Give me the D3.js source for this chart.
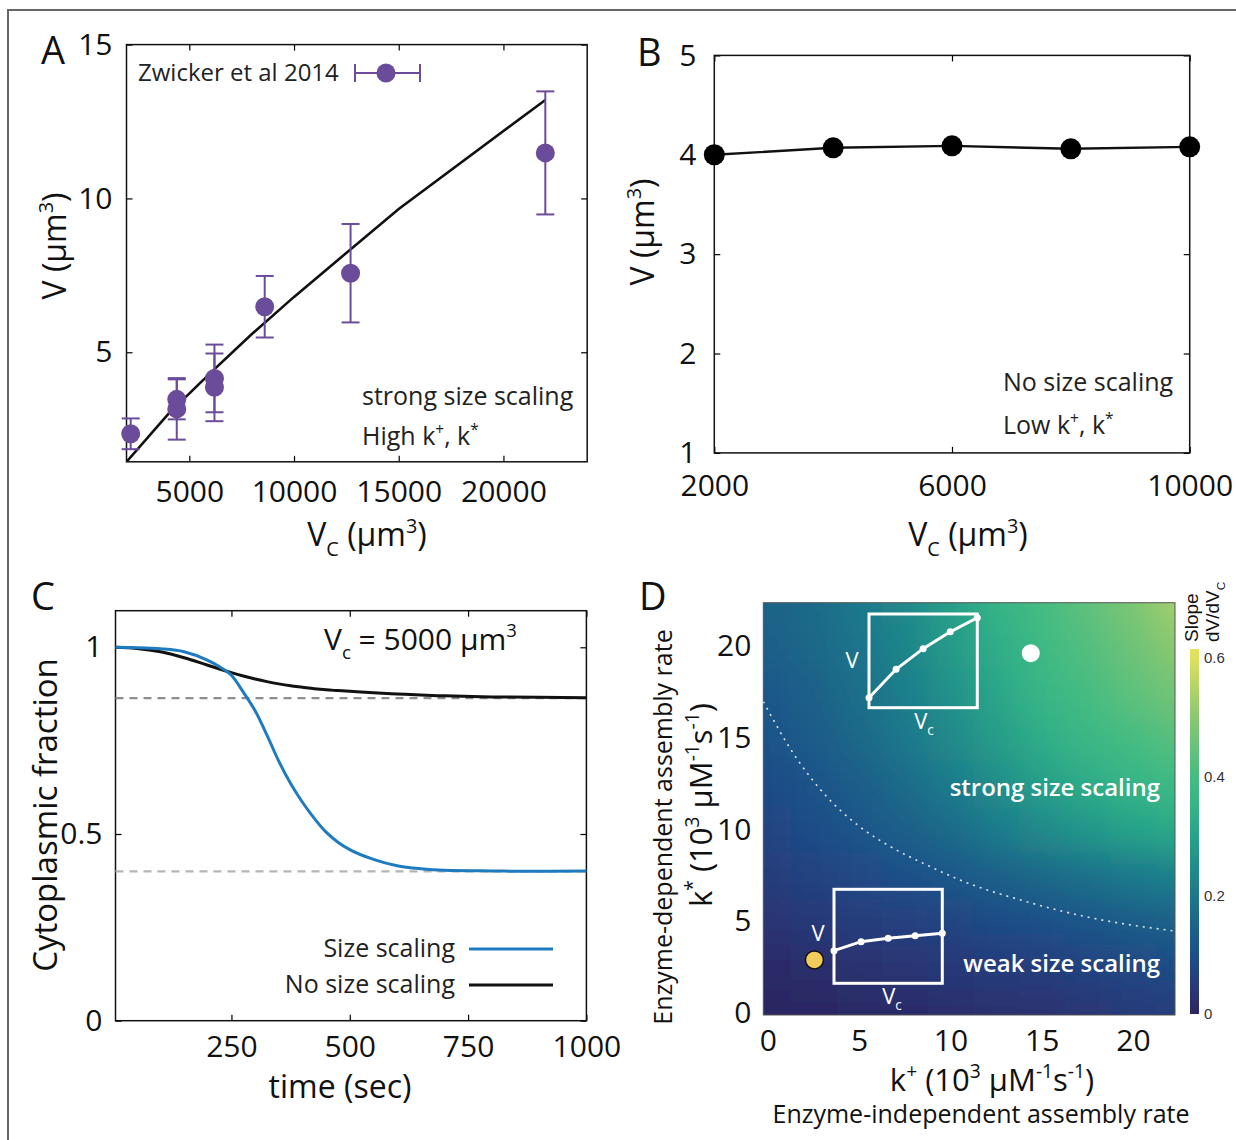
<!DOCTYPE html>
<html>
<head>
<meta charset="utf-8">
<script src="https://cdn.jsdelivr.net/npm/d3@7"></script>
<style>
  body { margin: 0; background: #fff; }
  svg text { font-family: "Open Sans", sans-serif; }
</style>
</head>
<body>
<div id="fig"></div>
<script>
// ---- A: Zwicker et al 2014 data + model curve ----
const zwVc  = [2200, 4400, 4400, 6200, 6200, 8600, 12700, 22000];
const zwV   = [2.35, 3.47, 3.16, 4.15, 3.86, 6.48, 7.57, 11.48];
const zwErr = [0.5, 0.65, 1.0, 1.1, 1.1, 1.0, 1.6, 2.0];
const modelVc = [2000, 4000, 6000, 8000, 10000, 15000, 22000];
const modelV  = [1.44, 3.0, 4.32, 5.6, 6.8, 9.66, 13.2];

// ---- B: no size scaling ----
const bVc = [2000, 4000, 6000, 8000, 10000];
const bV  = [4.0, 4.07, 4.09, 4.06, 4.08];

// ---- C: cytoplasmic fraction vs time ----
const timeSec = [5, 50, 100, 150, 200, 225, 250, 275, 300, 325, 350, 375, 400, 425, 450, 475, 500, 550, 600, 650, 700, 800, 900, 1000];
const fracScaling   = [1.0, 0.999, 0.996, 0.988, 0.965, 0.948, 0.925, 0.88, 0.83, 0.765, 0.695, 0.635, 0.585, 0.542, 0.505, 0.478, 0.458, 0.432, 0.415, 0.407, 0.403, 0.401, 0.400, 0.401];
const fracNoScaling = [1.0, 0.997, 0.988, 0.972, 0.952, 0.942, 0.932, 0.923, 0.915, 0.908, 0.902, 0.897, 0.893, 0.889, 0.886, 0.884, 0.882, 0.878, 0.875, 0.872, 0.870, 0.867, 0.866, 0.865];
const steadyLevels = [0.864, 0.40];

// ---- D: slope map over (k+, k*) ----
const kGrid = [0, 2.5, 5, 7.5, 10, 12.5, 15, 17.5, 20, 22.5];
// rows: k* = 0 ... 22.5, columns: k+ = 0 ... 22.5
const slopeGrid = [
  [0.00, 0.005, 0.01, 0.015, 0.02, 0.025, 0.03, 0.04, 0.05, 0.06],
  [0.015, 0.02, 0.03, 0.035, 0.045, 0.05, 0.06, 0.07, 0.08, 0.09],
  [0.035, 0.045, 0.055, 0.065, 0.075, 0.09, 0.10, 0.115, 0.13, 0.145],
  [0.055, 0.07, 0.085, 0.10, 0.12, 0.14, 0.16, 0.18, 0.20, 0.22],
  [0.075, 0.095, 0.115, 0.14, 0.17, 0.205, 0.24, 0.27, 0.30, 0.32],
  [0.09, 0.11, 0.135, 0.17, 0.205, 0.25, 0.29, 0.325, 0.355, 0.38],
  [0.11, 0.13, 0.16, 0.20, 0.24, 0.285, 0.33, 0.37, 0.40, 0.43],
  [0.12, 0.145, 0.175, 0.215, 0.26, 0.31, 0.36, 0.40, 0.44, 0.47],
  [0.14, 0.16, 0.19, 0.23, 0.28, 0.33, 0.38, 0.42, 0.46, 0.50],
  [0.15, 0.17, 0.20, 0.24, 0.29, 0.35, 0.40, 0.44, 0.48, 0.53]
];
const boundaryKp = [-0.25, 1.39, 3.22, 5.04, 6.87, 8.70, 10.52, 14.17, 17.82, 22.3];
const boundaryKs = [16.96, 14.15, 11.79, 10.15, 8.98, 8.07, 7.25, 6.07, 5.17, 4.47];
const strongPoint = [14.4, 19.6];
const weakPoint = [2.55, 2.9];
const insetVc = [1, 2, 3, 4, 5];
const insetStrongV = [0.107, 0.41, 0.63, 0.81, 0.96];
const insetWeakV = [0.347, 0.443, 0.479, 0.506, 0.532];
const cmapVals   = [0, 0.05, 0.1, 0.15, 0.2, 0.25, 0.3, 0.35, 0.4, 0.45, 0.5, 0.55, 0.6, 0.615];
const cmapColors = ["#2c2661", "#283a7a", "#1d4f89", "#1a6389", "#1d788b", "#218d8a", "#27a389", "#34b487", "#45bc82", "#66c27a", "#8bc870", "#b4d466", "#dfe05d", "#e6e25c"];
const cbTicks = [0, 0.2, 0.4, 0.6];

const purple = "#6b4c9a", blue = "#1f7bbf";

const svg = d3.select("#fig").append("svg")
  .attr("width", 1236).attr("height", 1140);

// outer frame
svg.append("path").attr("d", "M8,1140V10H1236").attr("fill", "none")
  .attr("stroke", "#666").attr("stroke-width", 2);

// text with super/subscripts (dy only where the baseline moves)
function rich(sel, parts, fs) {
  let shift = 0;
  parts.forEach(p => {
    const target = p.sup ? -0.42 * fs : p.sub ? 0.3 * fs : 0;
    const ts = sel.append("tspan").attr("font-size", (p.sup || p.sub) ? fs * 0.62 : fs).text(p.t);
    if (target !== shift) ts.attr("dy", target - shift);
    shift = target;
  });
  return sel;
}
const um3 = [{t: " (µm"}, {t: "3", sup: true}, {t: ")"}];

function letter(x, y, t) {
  svg.append("text").attr("x", x).attr("y", y).attr("font-size", 38).attr("fill", "#111").text(t);
}

// box with inward ticks on all four sides
function boxAxes(x, y, box, o) {
  const g = svg.append("g");
  const fmt = o.fmt || (d => d);
  g.append("g").attr("transform", `translate(0,${box.b})`)
    .call(d3.axisBottom(x).tickValues(o.xt).tickSizeInner(-6).tickSizeOuter(0).tickPadding(o.xp).tickFormat(o.xfmt || fmt))
    .attr("font-size", 30);
  g.append("g").attr("transform", `translate(0,${box.t})`)
    .call(d3.axisTop(x).tickValues(o.xt).tickSizeInner(-6).tickSizeOuter(0).tickFormat(""));
  g.append("g").attr("transform", `translate(${box.l},0)`)
    .call(d3.axisLeft(y).tickValues(o.yt).tickSizeInner(-6).tickSizeOuter(0).tickPadding(o.yp).tickFormat(o.yfmt || fmt))
    .attr("font-size", 30);
  g.append("g").attr("transform", `translate(${box.r},0)`)
    .call(d3.axisRight(y).tickValues(o.yt).tickSizeInner(-6).tickSizeOuter(0).tickFormat(""));
  g.selectAll(".domain").remove();
  g.selectAll(".tick line").attr("stroke-width", 1.2);
  g.selectAll("text").attr("fill", "#111");
  svg.append("rect").attr("x", box.l).attr("y", box.t)
    .attr("width", box.r - box.l).attr("height", box.b - box.t)
    .attr("fill", "none").attr("stroke", "#111").attr("stroke-width", 1.5);
}

// ================= A =================
(function panelA() {
  const box = {l: 126.5, r: 587.2, t: 44.6, b: 461.8};
  const x = d3.scaleLinear().domain([2000, 24000]).range([box.l, box.r]);
  const y = d3.scaleLinear().domain([1.44, 15]).range([box.b, box.t]);
  boxAxes(x, y, box, {xt: [5000, 10000, 15000, 20000], yt: [5, 10, 15], xp: 19, yp: 14});

  svg.append("clipPath").attr("id", "clipA").append("rect")
    .attr("x", box.l).attr("y", box.t).attr("width", box.r - box.l).attr("height", box.b - box.t);
  svg.append("path").datum(modelVc.map((v, i) => [v, modelV[i]]))
    .attr("clip-path", "url(#clipA)")
    .attr("fill", "none").attr("stroke", "#111").attr("stroke-width", 2.6)
    .attr("d", d3.line().x(d => x(d[0])).y(d => y(d[1])));

  const pts = zwVc.map((v, i) => ({vc: v, v: zwV[i], e: zwErr[i]}));
  const eb = svg.append("g").attr("stroke", purple).attr("stroke-width", 2);
  pts.forEach(d => {
    eb.append("line").attr("x1", x(d.vc)).attr("x2", x(d.vc)).attr("y1", y(d.v - d.e)).attr("y2", y(d.v + d.e));
    [d.v - d.e, d.v + d.e].forEach(c => eb.append("line")
      .attr("x1", x(d.vc) - 9).attr("x2", x(d.vc) + 9).attr("y1", y(c)).attr("y2", y(c)));
  });
  svg.append("g").selectAll("circle").data(pts).join("circle")
    .attr("cx", d => x(d.vc)).attr("cy", d => y(d.v)).attr("r", 9.5).attr("fill", purple);

  // legend
  svg.append("text").attr("x", 138).attr("y", 73).attr("dy", "0.35em").attr("font-size", 24).attr("fill", "#222")
    .text("Zwicker et al 2014");
  const lg = svg.append("g").attr("stroke", purple).attr("stroke-width", 2);
  lg.append("line").attr("x1", 355).attr("x2", 420).attr("y1", 73).attr("y2", 73);
  lg.append("line").attr("x1", 355).attr("x2", 355).attr("y1", 64).attr("y2", 82);
  lg.append("line").attr("x1", 420).attr("x2", 420).attr("y1", 64).attr("y2", 82);
  svg.append("circle").attr("cx", 386).attr("cy", 73).attr("r", 9.5).attr("fill", purple);

  svg.append("text").attr("x", 362).attr("y", 396).attr("dy", "0.35em").attr("font-size", 25).attr("fill", "#222")
    .text("strong size scaling");
  rich(svg.append("text").attr("x", 362).attr("y", 445).attr("font-size", 25).attr("fill", "#222"),
    [{t: "High k"}, {t: "+", sup: true}, {t: ", k"}, {t: "*", sup: true}], 25);

  rich(svg.append("text").attr("transform", "translate(55,246) rotate(-90)").attr("text-anchor", "middle")
    .attr("dy", "0.35em").attr("font-size", 32).attr("fill", "#111"), [{t: "V"}].concat(um3), 32);
  rich(svg.append("text").attr("x", 367).attr("y", 546).attr("text-anchor", "middle").attr("font-size", 32).attr("fill", "#111"),
    [{t: "V"}, {t: "C", sub: true}].concat(um3), 32);
  letter(41, 64, "A");
})();

// ================= B =================
(function panelB() {
  const box = {l: 714.3, r: 1189.7, t: 55.4, b: 452.9};
  const x = d3.scaleLinear().domain([2000, 10000]).range([box.l, box.r]);
  const y = d3.scaleLinear().domain([1, 5]).range([box.b, box.t]);
  boxAxes(x, y, box, {xt: [2000, 6000, 10000], yt: [1, 2, 3, 4, 5], xp: 22, yp: 18});

  const pts = bVc.map((v, i) => [v, bV[i]]);
  svg.append("path").datum(pts).attr("fill", "none").attr("stroke", "#111").attr("stroke-width", 2.4)
    .attr("d", d3.line().x(d => x(d[0])).y(d => y(d[1])));
  svg.append("g").selectAll("circle").data(pts).join("circle")
    .attr("cx", d => x(d[0])).attr("cy", d => y(d[1])).attr("r", 10.5).attr("fill", "#000");

  svg.append("text").attr("x", 1003).attr("y", 382).attr("dy", "0.35em").attr("font-size", 25).attr("fill", "#222")
    .text("No size scaling");
  rich(svg.append("text").attr("x", 1003).attr("y", 434).attr("font-size", 25).attr("fill", "#222"),
    [{t: "Low k"}, {t: "+", sup: true}, {t: ", k"}, {t: "*", sup: true}], 25);

  rich(svg.append("text").attr("transform", "translate(643,232) rotate(-90)").attr("text-anchor", "middle")
    .attr("dy", "0.35em").attr("font-size", 32).attr("fill", "#111"), [{t: "V"}].concat(um3), 32);
  rich(svg.append("text").attr("x", 968).attr("y", 546).attr("text-anchor", "middle").attr("font-size", 32).attr("fill", "#111"),
    [{t: "V"}, {t: "C", sub: true}].concat(um3), 32);
  letter(637, 66, "B");
})();

// ================= C =================
(function panelC() {
  const box = {l: 115.5, r: 586.4, t: 610.7, b: 1020.7};
  const x = d3.scaleLinear().domain([5, 1000]).range([box.l, box.r]);
  const y = d3.scaleLinear().domain([0, 1.098]).range([box.b, box.t]);
  boxAxes(x, y, box, {xt: [250, 500, 750, 1000], yt: [0, 0.5, 1], xp: 15, yp: 13});

  svg.append("g").selectAll("line").data(steadyLevels).join("line")
    .attr("x1", box.l).attr("x2", box.r).attr("y1", d => y(d)).attr("y2", d => y(d))
    .attr("stroke", (d, i) => i === 0 ? "#8f8f8f" : "#b5b5b5").attr("stroke-width", 2.4)
    .attr("stroke-dasharray", "8,6");

  const line = d3.line().curve(d3.curveMonotoneX).x((d, i) => x(timeSec[i])).y(d => y(d));
  svg.append("path").datum(fracNoScaling).attr("fill", "none").attr("stroke", "#111").attr("stroke-width", 3).attr("d", line);
  svg.append("path").datum(fracScaling).attr("fill", "none").attr("stroke", blue).attr("stroke-width", 3).attr("d", line);

  rich(svg.append("text").attr("x", 324).attr("y", 650).attr("font-size", 30).attr("fill", "#111"),
    [{t: "V"}, {t: "c", sub: true}, {t: " = 5000 µm"}, {t: "3", sup: true}], 30);

  const leg = [["Size scaling", blue, 948], ["No size scaling", "#111", 984]];
  leg.forEach(([t, c, yy]) => {
    svg.append("text").attr("x", 455).attr("y", yy).attr("dy", "0.35em").attr("text-anchor", "end")
      .attr("font-size", 25).attr("fill", "#222").text(t);
    svg.append("line").attr("x1", 469).attr("x2", 553).attr("y1", yy + 1).attr("y2", yy + 1)
      .attr("stroke", c).attr("stroke-width", 3);
  });

  svg.append("text").attr("transform", "translate(45,815) rotate(-90)").attr("text-anchor", "middle")
    .attr("dy", "0.35em").attr("font-size", 33).attr("fill", "#111").text("Cytoplasmic fraction");
  svg.append("text").attr("x", 340).attr("y", 1098).attr("text-anchor", "middle")
    .attr("font-size", 32).attr("fill", "#111").text("time (sec)");
  letter(31, 610, "C");
})();

// ================= D =================
(function panelD() {
  const box = {l: 763.3, r: 1175, t: 602.7, b: 1015};
  const x = d3.scaleLinear().domain([-0.25, 22.3]).range([box.l, box.r]);
  const y = d3.scaleLinear().domain([-0.1, 22.35]).range([box.b, box.t]);
  const color = d3.scaleLinear().domain(cmapVals).range(cmapColors).interpolate(d3.interpolateRgb).clamp(true);

  const defs = svg.append("defs");
  defs.append("clipPath").attr("id", "clipD").append("rect")
    .attr("x", box.l).attr("y", box.t).attr("width", box.r - box.l).attr("height", box.b - box.t);
  defs.append("filter").attr("id", "smooth").attr("x", "-5%").attr("y", "-5%").attr("width", "110%").attr("height", "110%")
    .append("feGaussianBlur").attr("stdDeviation", 17);

  const cells = [];
  slopeGrid.forEach((row, j) => row.forEach((v, i) => cells.push({i, j, v})));
  const n = kGrid.length, pad = 70;
  svg.append("g").attr("clip-path", "url(#clipD)")
    .append("g").attr("filter", "url(#smooth)")
    .selectAll("rect").data(cells).join("rect")
      .attr("x", d => x(kGrid[d.i] - 1.25) - (d.i === 0 ? pad : 0))
      .attr("width", d => x(kGrid[d.i] + 1.25) - x(kGrid[d.i] - 1.25) + (d.i === 0 || d.i === n - 1 ? pad : 0) + 0.5)
      .attr("y", d => y(kGrid[d.j] + 1.25) - (d.j === n - 1 ? pad : 0))
      .attr("height", d => y(kGrid[d.j] - 1.25) - y(kGrid[d.j] + 1.25) + (d.j === 0 || d.j === n - 1 ? pad : 0) + 0.5)
      .attr("fill", d => color(d.v));
  svg.append("rect").attr("x", box.l).attr("y", box.t).attr("width", box.r - box.l).attr("height", box.b - box.t)
    .attr("fill", "none").attr("stroke", "#555").attr("stroke-width", 1);

  // boundary between weak / strong scaling
  svg.append("path").datum(boundaryKp.map((k, i) => [k, boundaryKs[i]]))
    .attr("fill", "none").attr("stroke", "#fff").attr("stroke-opacity", 0.85).attr("stroke-width", 1.6)
    .attr("stroke-dasharray", "2,5").attr("clip-path", "url(#clipD)")
    .attr("d", d3.line().curve(d3.curveMonotoneX).x(d => x(d[0])).y(d => y(d[1])));

  // axes (labels only)
  const ax = svg.append("g");
  ax.append("g").attr("transform", `translate(0,${box.b})`)
    .call(d3.axisBottom(x).tickValues([0, 5, 10, 15, 20]).tickSize(0).tickPadding(15)).attr("font-size", 30);
  ax.append("g").attr("transform", `translate(${box.l},0)`)
    .call(d3.axisLeft(y).tickValues([0, 5, 10, 15, 20]).tickSize(0).tickPadding(12)).attr("font-size", 30);
  ax.selectAll(".domain").remove();
  ax.selectAll("text").attr("fill", "#111");

  // insets
  function inset(b, vals, vx, vy, cx, cy) {
    const ix = d3.scaleLinear().domain([1, 5]).range([b.l, b.r]);
    const iy = d3.scaleLinear().domain([0, 1]).range([b.b, b.t]);
    svg.append("rect").attr("x", b.l).attr("y", b.t).attr("width", b.r - b.l).attr("height", b.b - b.t)
      .attr("fill", "none").attr("stroke", "#fff").attr("stroke-width", 3);
    svg.append("path").datum(vals).attr("fill", "none").attr("stroke", "#fff").attr("stroke-width", 3)
      .attr("d", d3.line().x((d, i) => ix(insetVc[i])).y(d => iy(d)));
    svg.append("g").selectAll("circle").data(vals).join("circle")
      .attr("cx", (d, i) => ix(insetVc[i])).attr("cy", d => iy(d)).attr("r", 3.5).attr("fill", "#fff");
    svg.append("text").attr("x", vx).attr("y", vy).attr("dy", "0.35em").attr("text-anchor", "middle")
      .attr("font-size", 22).style("fill", "#fff").text("V");
    rich(svg.append("text").attr("x", cx).attr("y", cy).attr("dy", "0.35em").attr("text-anchor", "middle")
      .attr("font-size", 22).style("fill", "#fff"), [{t: "V"}, {t: "c", sub: true}], 22);
  }
  inset({l: 869, r: 977.3, t: 614, b: 707.7}, insetStrongV, 852, 660, 924, 721);
  inset({l: 834, r: 942.3, t: 889.3, b: 983.3}, insetWeakV, 818, 933, 892, 996);

  svg.append("circle").attr("cx", x(strongPoint[0])).attr("cy", y(strongPoint[1])).attr("r", 9).attr("fill", "#fff");
  svg.append("circle").attr("cx", x(weakPoint[0])).attr("cy", y(weakPoint[1])).attr("r", 9)
    .attr("fill", "#f0cc5a").attr("stroke", "#111").attr("stroke-width", 1.5);

  svg.append("text").attr("x", 1160).attr("y", 788).attr("dy", "0.35em").attr("text-anchor", "end")
    .attr("font-size", 24).attr("font-weight", 600).style("fill", "#fff").text("strong size scaling");
  svg.append("text").attr("x", 1160).attr("y", 964).attr("dy", "0.35em").attr("text-anchor", "end")
    .attr("font-size", 24).attr("font-weight", 600).style("fill", "#fff").text("weak size scaling");

  // colorbar
  const cb = d3.scaleLinear().domain([0, 0.615]).range([1014, 649]);
  const grad = defs.append("linearGradient").attr("id", "cbGrad").attr("x1", 0).attr("x2", 0).attr("y1", 1).attr("y2", 0);
  grad.selectAll("stop").data(cmapVals).join("stop")
    .attr("offset", d => d / 0.615).attr("stop-color", (d, i) => cmapColors[i]);
  svg.append("rect").attr("x", 1190).attr("y", cb(0.615)).attr("width", 9).attr("height", cb(0) - cb(0.615))
    .attr("fill", "url(#cbGrad)");
  svg.append("g").selectAll("text").data(cbTicks).join("text")
    .attr("x", 1204).attr("y", d => cb(d)).attr("dy", "0.35em")
    .attr("font-size", 15).style("font-family", "'Liberation Sans', Arial, sans-serif").attr("fill", "#333")
    .text(d => d);
  svg.append("text").attr("transform", "translate(1198,642) rotate(-90)")
    .attr("font-size", 19).style("font-family", "'Liberation Sans', Arial, sans-serif").attr("fill", "#111").text("Slope");
  rich(svg.append("text").attr("transform", "translate(1219,642) rotate(-90)")
    .attr("font-size", 19).style("font-family", "'Liberation Sans', Arial, sans-serif").attr("fill", "#111"),
    [{t: "dV/dV"}, {t: "C", sub: true}], 19);

  // axis titles
  svg.append("text").attr("transform", "translate(663,827) rotate(-90)").attr("text-anchor", "middle")
    .attr("dy", "0.35em").attr("font-size", 25).attr("fill", "#111").text("Enzyme-dependent assembly rate");
  rich(svg.append("text").attr("transform", "translate(701,805) rotate(-90)").attr("text-anchor", "middle")
    .attr("dy", "0.35em").attr("font-size", 31).attr("fill", "#111"),
    [{t: "k"}, {t: "*", sup: true}, {t: " (10"}, {t: "3", sup: true}, {t: " µM"}, {t: "-1", sup: true}, {t: "s"}, {t: "-1", sup: true}, {t: ")"}], 31);
  rich(svg.append("text").attr("x", 992).attr("y", 1091).attr("text-anchor", "middle").attr("font-size", 31).attr("fill", "#111"),
    [{t: "k"}, {t: "+", sup: true}, {t: " (10"}, {t: "3", sup: true}, {t: " µM"}, {t: "-1", sup: true}, {t: "s"}, {t: "-1", sup: true}, {t: ")"}], 31);
  svg.append("text").attr("x", 981).attr("y", 1123).attr("text-anchor", "middle")
    .attr("font-size", 25).attr("fill", "#111").text("Enzyme-independent assembly rate");
  letter(639, 610, "D");
})();
</script>
</body>
</html>
